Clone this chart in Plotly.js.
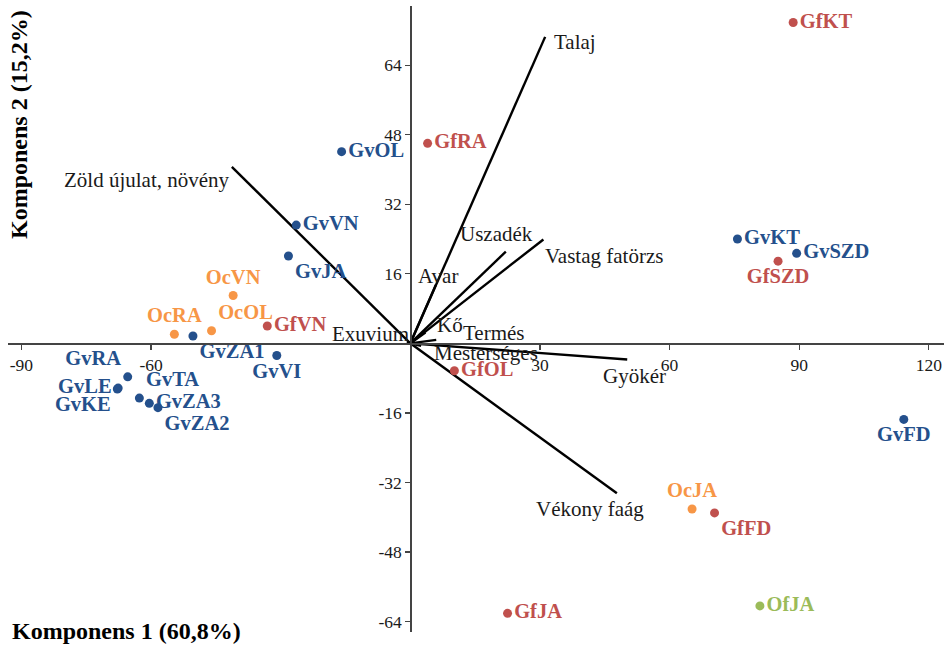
<!DOCTYPE html>
<html>
<head>
<meta charset="utf-8">
<script src="https://cdn.plot.ly/plotly-3.0.1.min.js"></script>
<style>
  html, body { margin: 0; padding: 0; background: #ffffff; }
  #chart { width: 948px; height: 645px; }
</style>
</head>
<body>
<div id="chart"></div>
<script>
// PCA biplot: site scores (coloured dots) and variable loadings (black vectors)

// Gv sites (blue)
const gvNames = ['GvOL', 'GvVN', 'GvJA', 'GvZA1', 'GvVI', 'GvRA', 'GvLE', 'GvKE', 'GvTA', 'GvZA3', 'GvZA2', 'GvKT', 'GvSZD', 'GvFD'];
const gvX = [-15.9, -26.4, -28.2, -50.3, -30.9, -65.4, -67.6, -67.8, -62.7, -60.4, -58.4, 75.7, 89.4, 114.2];
const gvY = [44.1, 27.2, 20.1, 1.7, -2.8, -7.7, -10.3, -10.5, -12.6, -13.8, -14.8, 24.0, 20.7, -17.5];

// Gf sites (red)
const gfNames = ['GfKT', 'GfRA', 'GfSZD', 'GfVN', 'GfOL', 'GfFD', 'GfJA'];
const gfX = [88.6, 4.0, 85.1, -33.1, 10.2, 70.4, 22.5];
const gfY = [73.8, 46.0, 18.9, 4.0, -6.3, -39.0, -62.1];

// Oc sites (orange)
const ocNames = ['OcVN', 'OcRA', 'OcOL', 'OcJA'];
const ocX = [-41.0, -54.6, -46.0, 65.2];
const ocY = [11.0, 2.1, 2.9, -38.1];

// Of sites (green)
const ofNames = ['OfJA'];
const ofX = [80.9];
const ofY = [-60.4];

// Variable loadings (vector tips)
const varNames = ['Talaj', 'Zöld újulat, növény', 'Uszadék', 'Vastag fatörzs', 'Avar', 'Kő', 'Termés', 'Mesterséges', 'Exuvium', 'Gyökér', 'Vékony faág'];
const varX = [31.2, -41.3, 22.1, 30.8, 5.9, 3.5, 6.0, 2.5, -0.8, 50.2, 47.8];
const varY = [70.5, 40.6, 21.1, 23.9, 13.4, 2.5, 0.8, -0.6, 0.3, -3.7, -34.5];

// Axis ticks and titles
const xTicks = [-90, -60, 30, 60, 90, 120];
const yTicks = [64, 48, 32, 16, -16, -32, -48, -64];
const xTitle = 'Komponens 1 (60,8%)';
const yTitle = 'Komponens 2 (15,2%)';

// ---- presentation ----
const SERIF = '"Liberation Serif", "Times New Roman", serif';
const xRange = [-93.1, 123.5];
const yRange = [-66.4, 77.6];

const gvPos = ['middle right', 'middle right', 'bottom right', 'bottom right', 'bottom center', 'top left',
               'middle left', 'bottom left', 'top right', 'middle right', 'bottom right', 'middle right',
               'middle right', 'bottom center'];
const gfPos = ['middle right', 'middle right', 'bottom center', 'middle right', 'middle right', 'bottom right', 'middle right'];
const ocPos = ['top center', 'top center', 'top right', 'top center'];
const ofPos = ['middle right'];

// label placement relative to each vector tip: [xanchor, xshift, yshift]
const varLabelPlace = [
  ['left', 7, -5],
  ['right', 0, -13],
  ['center', -9, 18],
  ['left', 0, -17],
  ['center', 2, 9],
  ['center', 25, 7],
  ['left', 25, 7],
  ['left', 11, -7],
  ['right', 4, 8],
  ['center', 7, -17],
  ['center', -27, -16]
];

function siteTrace(names, xs, ys, color, pos) {
  return {
    type: 'scatter', mode: 'markers+text',
    x: xs, y: ys, text: names, textposition: pos,
    marker: { color: color, size: 9 },
    textfont: { family: SERIF, size: 20.5, color: color, weight: 'bold' },
    cliponaxis: false, hoverinfo: 'skip', showlegend: false
  };
}

// vectors from the origin, one segment each
const vx = [], vy = [];
varX.forEach((x, i) => { vx.push(0, x, null); vy.push(0, varY[i], null); });

const traces = [
  { type: 'scatter', mode: 'lines', x: vx, y: vy,
    line: { color: '#000000', width: 2.4 }, hoverinfo: 'skip', showlegend: false, cliponaxis: false },
  siteTrace(gvNames, gvX, gvY, '#24508C', gvPos),
  siteTrace(gfNames, gfX, gfY, '#C0504D', gfPos),
  siteTrace(ocNames, ocX, ocY, '#F79646', ocPos),
  siteTrace(ofNames, ofX, ofY, '#9BBB59', ofPos)
];

const annotations = varNames.map((name, i) => ({
  x: varX[i], y: varY[i], xref: 'x', yref: 'y', text: name, showarrow: false,
  xanchor: varLabelPlace[i][0], yanchor: 'middle',
  xshift: varLabelPlace[i][1], yshift: varLabelPlace[i][2],
  font: { family: SERIF, size: 21, color: '#1a1a1a' }
}));

annotations.push({
  xref: 'paper', yref: 'paper', x: 0, y: 0, xanchor: 'left', yanchor: 'middle',
  xshift: 2, yshift: 1, showarrow: false, text: xTitle,
  font: { family: SERIF, size: 24, color: '#000000', weight: 'bold' }
});
annotations.push({
  xref: 'paper', yref: 'paper', x: 0.0118, y: 0.81, xanchor: 'center', yanchor: 'middle',
  textangle: -90, showarrow: false, text: yTitle,
  font: { family: SERIF, size: 24, color: '#000000', weight: 'bold' }
});

// axes cross at the origin
const yAxisPos = (0 - xRange[0]) / (xRange[1] - xRange[0]);
const xAxisPos = (0 - yRange[0]) / (yRange[1] - yRange[0]);

const axisCommon = {
  showgrid: false, zeroline: false, showline: true, linecolor: '#444444', linewidth: 1.2,
  ticks: 'outside', ticklen: 5, tickwidth: 1.2, tickcolor: '#444444',
  tickfont: { family: SERIF, size: 17.5, color: '#1a1a1a' },
  anchor: 'free', fixedrange: true
};

const layout = {
  width: 948, height: 645,
  margin: { l: 8, r: 4, t: 6, b: 13 },
  paper_bgcolor: '#ffffff', plot_bgcolor: '#ffffff',
  xaxis: Object.assign({}, axisCommon, {
    range: xRange, tickmode: 'array', tickvals: xTicks, ticktext: xTicks.map(String),
    position: xAxisPos, domain: [0, 1]
  }),
  yaxis: Object.assign({}, axisCommon, {
    range: yRange, tickmode: 'array', tickvals: yTicks, ticktext: yTicks.map(String),
    position: yAxisPos, domain: [0, 1]
  }),
  annotations: annotations,
  showlegend: false
};

Plotly.newPlot('chart', traces, layout, { staticPlot: true, displayModeBar: false });
</script>
</body>
</html>
